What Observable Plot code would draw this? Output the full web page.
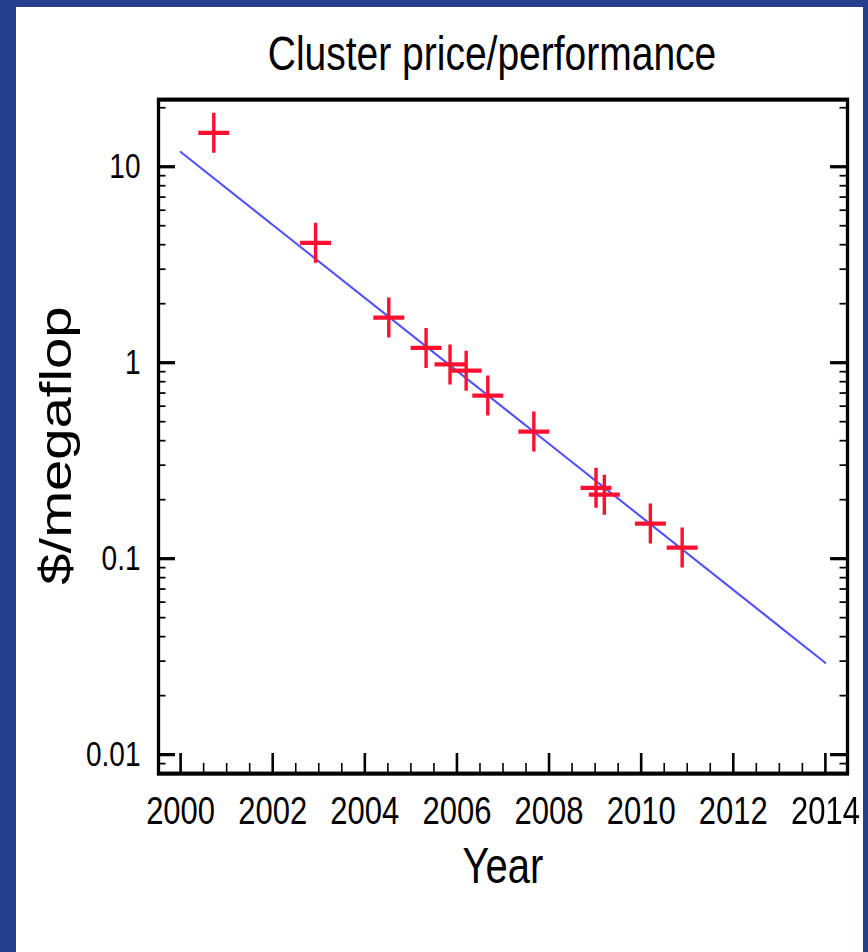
<!DOCTYPE html>
<html>
<head>
<meta charset="utf-8">
<script src="https://cdn.jsdelivr.net/npm/d3@7"></script>
<script src="https://cdn.jsdelivr.net/npm/@observablehq/plot@0.6"></script>
<style>
  html, body { margin: 0; padding: 0; }
  body { width: 868px; height: 952px; background: #263e8e; position: relative; overflow: hidden; }
  #panel { position: absolute; left: 16px; top: 7px; width: 847px; height: 945px; background: #ffffff; }
  #stretch { transform: scaleY(1.25); transform-origin: 0 0; width: 847px; }
  #stretch svg { display: block; }
</style>
</head>
<body>
<div id="panel"><div id="stretch"></div></div>
<script>
// ---- data ----
const years = [2000.72, 2002.93, 2004.52, 2005.33, 2005.85, 2006.20, 2006.67, 2007.67, 2009.02, 2009.20, 2010.20, 2010.89];
const dollarsPerMegaflop = [14.9, 4.09, 1.70, 1.19, 0.98, 0.91, 0.68, 0.445, 0.230, 0.212, 0.151, 0.114];
const fitYears = [2000, 2014];
const fitValues = [11.9, 0.0294];
const xTicks = [2000, 2002, 2004, 2006, 2008, 2010, 2012, 2014];
const xTickLabels = ["2000", "2002", "2004", "2006", "2008", "2010", "2012", "2014"];
const xMinorTicks = [2000.5, 2001, 2001.5, 2002.5, 2003, 2003.5, 2004.5, 2005, 2005.5, 2006.5, 2007, 2007.5,
  2008.5, 2009, 2009.5, 2010.5, 2011, 2011.5, 2012.5, 2013, 2013.5];
const yTicks = [0.01, 0.1, 1, 10];
const yTickLabels = ["0.01", "0.1", "1", "10"];
const yMinorTicks = [0.009, 0.02, 0.03, 0.04, 0.05, 0.06, 0.07, 0.08, 0.09,
  0.2, 0.3, 0.4, 0.5, 0.6, 0.7, 0.8, 0.9, 2, 3, 4, 5, 6, 7, 8, 9, 20];
const titleText = "Cluster price/performance";
const xLabel = "Year";
const yLabel = "$/megaflop";

const points = years.map((y, i) => ({year: y, value: dollarsPerMegaflop[i]}));
const fit = fitYears.map((y, i) => ({year: y, value: fitValues[i]}));

// ---- layout ----
const width = 847, height = 756;
const marginLeft = 142, marginRight = 16, marginTop = 73.6, marginBottom = 143.2;
const frameW = width - marginLeft - marginRight;
const frameH = height - marginTop - marginBottom;
const font = "'Liberation Sans', Arial, Helvetica, sans-serif";

const cross = {
  draw(ctx) {
    ctx.moveTo(-15.5, 0); ctx.lineTo(15.5, 0);
    ctx.moveTo(0, -16); ctx.lineTo(0, 16);
  }
};

const chart = Plot.plot({
  width, height, marginLeft, marginRight, marginTop, marginBottom,
  style: {fontFamily: font, color: "black", background: "white", overflow: "visible"},
  x: {domain: [1999.52, 2014.48]},
  y: {type: "log", domain: [0.008, 22]},
  marks: [
    // inward ticks: left & right y, bottom x
    Plot.tickY(yTicks, {y: d => d, insetRight: frameW - 17, stroke: "black", strokeWidth: 2.6}),
    Plot.tickY(yTicks, {y: d => d, insetLeft: frameW - 17, stroke: "black", strokeWidth: 2.6}),
    Plot.tickY(yMinorTicks, {y: d => d, insetRight: frameW - 7.5, stroke: "black", strokeWidth: 1.4}),
    Plot.tickY(yMinorTicks, {y: d => d, insetLeft: frameW - 7.5, stroke: "black", strokeWidth: 1.4}),
    Plot.tickX(xTicks, {x: d => d, insetTop: frameH - 16, stroke: "black", strokeWidth: 2.6}),
    Plot.tickX(xMinorTicks, {x: d => d, insetTop: frameH - 8, stroke: "black", strokeWidth: 1.6}),
    Plot.axisY({ticks: yTicks, tickSize: 0, tickPadding: 18, fontSize: 28, label: null,
      tickFormat: d => yTickLabels[yTicks.indexOf(d)]}),
    Plot.axisX({ticks: xTicks, tickSize: 0, tickPadding: 18, fontSize: 31, label: null,
      tickFormat: d => xTickLabels[xTicks.indexOf(d)]}),
    Plot.frame({stroke: "black", strokeWidth: 3.3}),
    Plot.line(fit, {x: "year", y: "value", stroke: "#5050ff", strokeWidth: 1.8}),
    Plot.dot(points, {x: "year", y: "value", symbol: cross, r: 16, fill: "none", stroke: "#ff1030", strokeWidth: 3.4}),
    Plot.text([titleText], {frameAnchor: "top", dx: -11, dy: -24, lineAnchor: "bottom", fontSize: 39, fill: "black"}),
    Plot.text([xLabel], {frameAnchor: "bottom", dy: 87.2, lineAnchor: "bottom", fontSize: 40, fill: "black"}),
    Plot.text([yLabel], {frameAnchor: "left", dx: -88, dy: 7.2, rotate: -90, textAnchor: "middle", lineAnchor: "bottom", fontSize: 45, fill: "black"})
  ]
});
document.getElementById("stretch").appendChild(chart);
</script>
</body>
</html>
